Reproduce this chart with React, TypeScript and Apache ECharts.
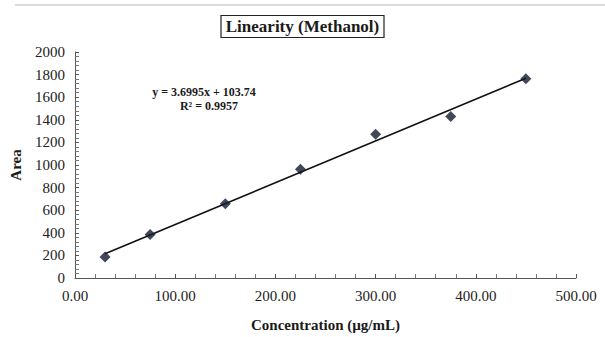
import React, { useEffect, useRef } from "react";
import * as echarts from "echarts";

const concentrations = [30, 75, 150, 225, 300, 375, 450];
const areas = [186, 386, 658, 962, 1272, 1430, 1763];
const slope = 3.6995;
const intercept = 103.74;
const rSquared = "0.9957";
const xTicks = { min: 0, max: 500, interval: 100 };
const yTicks = { min: 0, max: 2000, interval: 200 };

export default function App() {
  const ref = useRef<HTMLDivElement>(null);
  useEffect(() => {
    document.body.style.margin = "0";
    const chart = echarts.init(ref.current!, null, { renderer: "svg" });
    const font = "'Liberation Serif', 'Times New Roman', serif";
    const x0 = concentrations[0];
    const x1 = concentrations[concentrations.length - 1];
    const trend = [
      [x0, slope * x0 + intercept],
      [x1, slope * x1 + intercept],
    ];
    chart.setOption({
      animation: false,
      backgroundColor: "#ffffff",
      grid: { left: 75, right: 29, top: 52, bottom: 57 },
      title: {
        text: "Linearity (Methanol)",
        left: "center",
        top: 15,
        padding: [3, 5, 3, 5],
        borderColor: "#222",
        borderWidth: 1.2,
        textStyle: { fontFamily: font, fontWeight: "bold", fontSize: 17, color: "#1a1a1a" },
      },
      graphic: [
        {
          type: "line",
          shape: { x1: 15, y1: 5, x2: 605, y2: 5 },
          style: { stroke: "#b8b8b8", lineWidth: 1 },
        },
        {
          type: "text",
          x: 204,
          y: 92,
          style: {
            text: `y = ${slope}x + ${intercept}`,
            font: `bold 12px ${font}`,
            fill: "#1a1a1a",
            textAlign: "center",
            textVerticalAlign: "middle",
          },
        },
        {
          type: "text",
          x: 209,
          y: 106,
          style: {
            text: `R² = ${rSquared}`,
            font: `bold 12px ${font}`,
            fill: "#1a1a1a",
            textAlign: "center",
            textVerticalAlign: "middle",
          },
        },
      ],
      xAxis: {
        type: "value",
        min: xTicks.min,
        max: xTicks.max,
        interval: xTicks.interval,
        name: "Concentration (µg/mL)",
        nameLocation: "middle",
        nameGap: 39,
        nameTextStyle: { fontFamily: font, fontWeight: "bold", fontSize: 15, color: "#1a1a1a" },
        axisLine: { lineStyle: { color: "#555", width: 1 } },
        axisTick: { show: true, inside: false, length: -4, lineStyle: { color: "#555" } },
        minorTick: { show: true, splitNumber: 5, length: -4, lineStyle: { color: "#777" } },
        splitLine: { show: false },
        axisLabel: {
          fontFamily: font,
          fontSize: 15,
          color: "#222",
          margin: 10,
          formatter: (v: number) => v.toFixed(2),
        },
      },
      yAxis: {
        type: "value",
        min: yTicks.min,
        max: yTicks.max,
        interval: yTicks.interval,
        name: "Area",
        nameLocation: "middle",
        nameGap: 52,
        nameTextStyle: { fontFamily: font, fontWeight: "bold", fontSize: 15, color: "#1a1a1a" },
        axisLine: { show: true, lineStyle: { color: "#555", width: 1 } },
        axisTick: { show: true, inside: false, length: -4, lineStyle: { color: "#555" } },
        minorTick: { show: true, splitNumber: 5, length: -4, lineStyle: { color: "#777" } },
        splitLine: { show: false },
        axisLabel: {
          fontFamily: font,
          fontSize: 15,
          color: "#222",
          margin: 10,
          formatter: (v: number) => String(v),
        },
      },
      series: [
        {
          type: "line",
          data: trend,
          symbol: "none",
          lineStyle: { color: "#111", width: 1.6 },
          silent: true,
          z: 2,
        },
        {
          type: "scatter",
          data: concentrations.map((c, i) => [c, areas[i]]),
          symbol: "diamond",
          symbolSize: [11, 11],
          itemStyle: { color: "#141a30" },
          z: 3,
        },
      ],
    });
    return () => chart.dispose();
  }, []);
  return <div ref={ref} style={{ width: 605, height: 337 }} />;
}
